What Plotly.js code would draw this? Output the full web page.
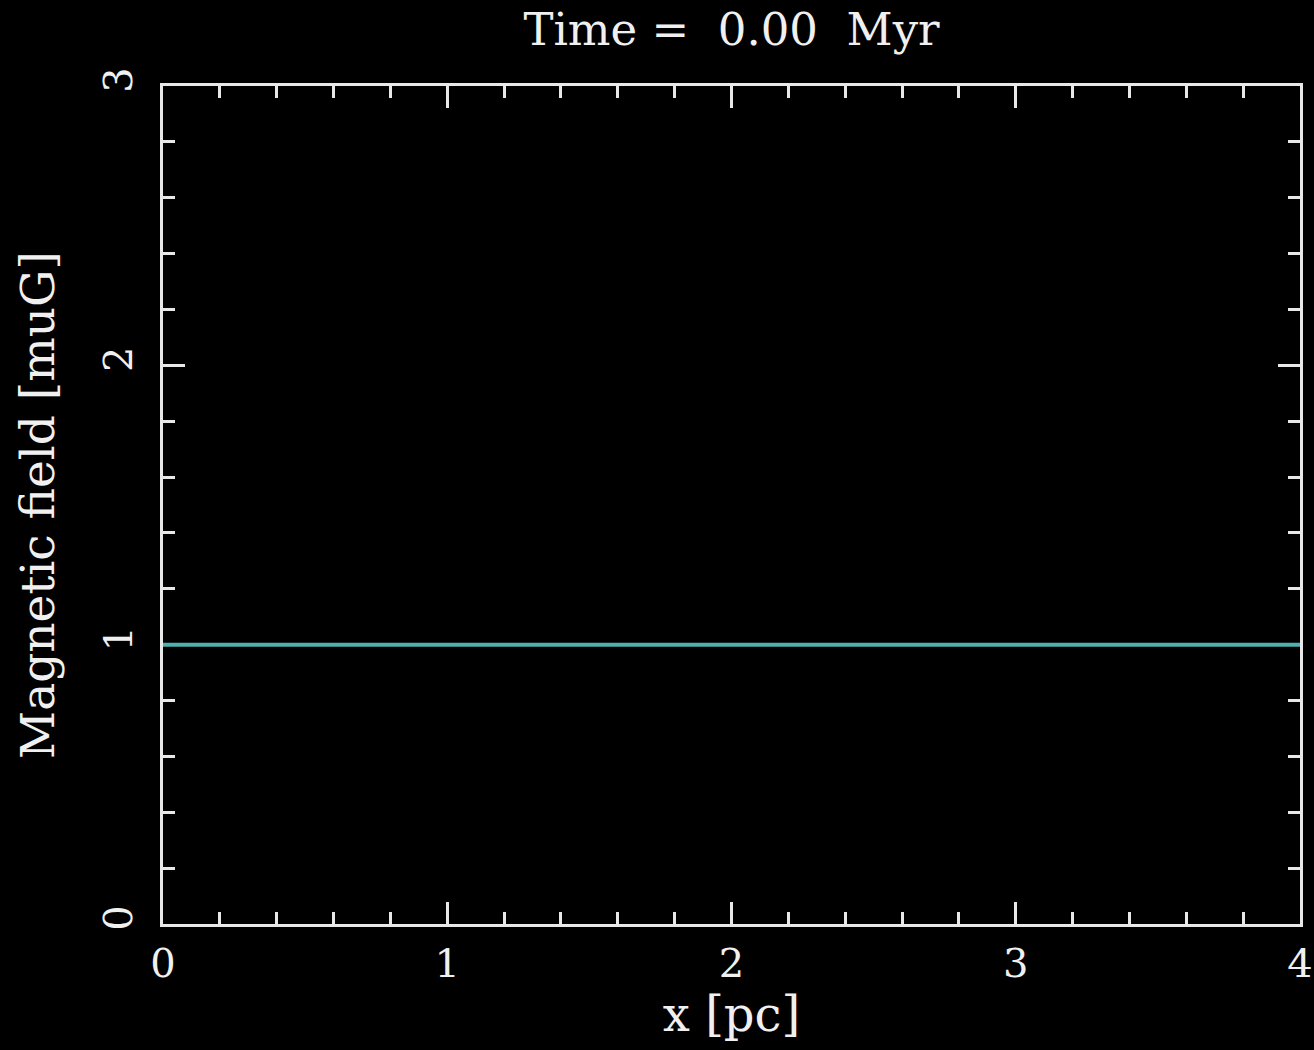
<!DOCTYPE html>
<html>
<head>
<meta charset="utf-8">
<script src="https://cdn.plot.ly/plotly-3.0.1.min.js"></script>
<style>html,body{margin:0;padding:0;background:#000;}#chart{width:1314px;height:1050px;}</style>
</head>
<body>
<div id="chart"></div>
<script>
const xPositions = [0, 4];
const magneticField = [1, 1];
const xTickValues = [0, 1, 2, 3, 4];
const xTickLabels = ['0', '1', '2', '3', '4'];
const yTickValues = [0, 1, 2, 3];
const yTickLabels = ['0', '1', '2', '3'];
const titleText = 'Time =&nbsp;&nbsp;0.00&nbsp;&nbsp;Myr';

const font = 'DejaVu Serif, Liberation Serif, serif';
const axisCommon = {
  showgrid: false, zeroline: false,
  showline: true, linecolor: '#e8e8e8', linewidth: 3,
  mirror: 'ticks', layer: 'below traces',
  ticks: 'inside', ticklen: 22, tickwidth: 3, tickcolor: '#e8e8e8',
  tickfont: {family: font, size: 40, color: '#f0f0f0'},
  minor: {ticks: 'inside', ticklen: 12, tickwidth: 3, tickcolor: '#e8e8e8', dtick: 0.2, showgrid: false},
  fixedrange: true
};

const data = [{
  x: xPositions, y: magneticField, type: 'scatter', mode: 'lines',
  line: {color: '#4fb0b0', width: 4}, hoverinfo: 'skip', cliponaxis: false
}];

const layout = {
  width: 1314, height: 1050,
  paper_bgcolor: '#000', plot_bgcolor: '#000',
  margin: {l: 163, r: 14, t: 86, b: 126},
  showlegend: false,
  title: {text: titleText, font: {family: font, size: 45, color: '#f0f0f0'}, x: 0.5, xref: 'paper', y: 0.972, yref: 'container', yanchor: 'middle'},
  xaxis: Object.assign({}, axisCommon, {
    range: [0, 4], tickmode: 'array', tickvals: xTickValues, ticktext: xTickLabels,
    ticklabelstandoff: 2,
    title: {text: 'x [pc]', font: {family: font, size: 48, color: '#f0f0f0'}, standoff: 2}
  }),
  yaxis: Object.assign({}, axisCommon, {
    range: [0, 3], tickmode: 'array', tickvals: yTickValues, ticktext: yTickLabels,
    tickangle: -90, ticklabelstandoff: 12,
    title: {text: 'Magnetic field [muG]', font: {family: font, size: 47, color: '#f0f0f0'}, standoff: 26}
  })
};

Plotly.newPlot('chart', data, layout, {staticPlot: true, displayModeBar: false});
</script>
</body>
</html>
